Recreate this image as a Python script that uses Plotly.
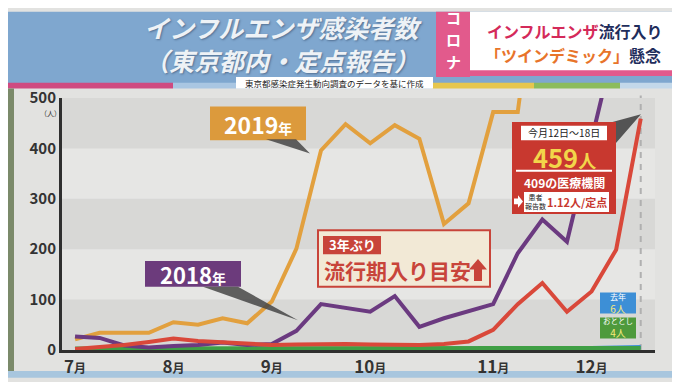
import plotly.graph_objects as go

# ---------------- data ----------------
week_index = list(range(24))
month_tick_index = [0, 4, 8, 12, 17, 21]
month_labels = ["7月", "8月", "9月", "10月", "11月", "12月"]
y_ticks = [0, 100, 200, 300, 400, 500]

flu_2019 = [21, 34, 34, 34, 55, 50, 63, 53, 96, 201, 396, 448, 410, 446, 419, 250, 291, 472, 472, 850]
flu_2018 = [27, 24, 9, 5, 8, 10, 15, 10, 12, 38, 91, 84, 76, 107, 46, 63, 76, 91, 192, 259, 215, 417, 620]
flu_2022 = [2, 6, 10, 16, 23, 18, 15, 12, 10, 11, 12, 12, 11, 10, 10, 12, 17, 40, 91, 133, 76, 116, 199, 459]
flu_2021 = [1, 1, 1, 2, 2, 2, 2, 1, 1, 1, 1, 1, 1, 1, 1, 2, 2, 2, 3, 3, 3, 4, 5, 6]
flu_2020 = [3, 3, 3, 3, 3, 3, 3, 3, 3, 3, 3, 3, 3, 3, 3, 3, 3, 3, 3, 3, 3, 4, 4, 4]

FONT = "Noto Sans CJK JP"
W, H = 680, 382
L, R, T, B = 54, 647, 90, 353


def X(px):
    return (px - L) / (R - L)


def Y(py):
    return (B - py) / (B - T)


def path(pts):
    return "M " + " L ".join(f"{X(a):.5f},{Y(b):.5f}" for a, b in pts) + " Z"


fig = go.Figure()

series = [
    (flu_2021, "#3b8fd8", "2021"),
    (flu_2020, "#3f9f45", "2020"),
    (flu_2019, "#e2a03e", "2019"),
    (flu_2018, "#6b3a80", "2018"),
    (flu_2022, "#d9483a", "2022"),
]
for vals, col, name in series:
    fig.add_trace(go.Scatter(
        x=week_index[:len(vals)], y=vals, mode="lines", name=name,
        line=dict(color=col, width=4), showlegend=False, hoverinfo="skip"))

shapes = []


def rect(x0, y0, x1, y1, fill, line_color=None, lw=0, layer="above"):
    shapes.append(dict(type="rect", xref="paper", yref="paper",
                       x0=X(x0), x1=X(x1), y0=Y(y1), y1=Y(y0),
                       fillcolor=fill, layer=layer,
                       line=dict(color=line_color or fill, width=lw)))


def poly(pts, fill, layer="above"):
    shapes.append(dict(type="path", xref="paper", yref="paper", path=path(pts),
                       fillcolor=fill, layer=layer, line=dict(width=0)))


# grid bands
for lo in (0, 200, 400):
    shapes.append(dict(type="rect", xref="paper", yref="y", x0=0, x1=1, y0=lo, y1=lo + 100,
                       fillcolor="#d8d8d6", line=dict(width=0), layer="below"))

# background decorations
rect(0, 0, 680, 75, "#7fa7cf", layer="below")
rect(0, 74, 165, 80, "#cf4a80", layer="below")
rect(165, 74, 424, 80, "#a9c6e2", layer="below")
rect(424, 74, 526, 80, "#e6c64e", layer="below")
rect(526, 74, 612, 80, "#8cbc5c", layer="below")
rect(612, 74, 680, 80, "#c3d8ea", layer="below")
rect(0, 375, 680, 382, "#a8c6de", layer="below")
rect(0, 80, 6, 375, "#7b8a6a", layer="below")

# subtitle
rect(228, 68, 425, 80, "#ffffff")

# right headline box
rect(462, 4, 680, 67, "#e25a8c")
rect(462, 0, 680, 61, "#ffffff")
rect(428, 0, 462, 68, "#e25a8c")

# dashed current-week line
shapes.append(dict(type="line", xref="x", yref="paper", x0=23, x1=23, y0=0, y1=1.01,
                   line=dict(color="#b0b0b0", width=2, dash="6px,6px"), layer="below"))

# 2019 callout
rect(202, 99, 298, 134, "#dc9a3c")
poly([(258, 133), (288, 133), (302, 148)], "rgba(70,70,70,0.85)")
# 2018 callout
rect(137, 260, 233, 287, "#6c3b7c")
poly([(195, 287), (230, 287), (290, 322)], "rgba(70,70,70,0.85)")
# 3年ぶり box
rect(310, 228, 482, 287, "#f2e9d6", "#c8443a", 2)
rect(315, 234, 373, 253, "#c8443a")
poly([(466, 281), (474, 281), (474, 269), (479, 269), (470, 258), (461, 269), (466, 269)], "#c8443a")
# red box
poly([(598, 117), (608, 117), (608, 137), (633, 107)], "rgba(70,70,70,0.9)")
rect(504, 115, 608, 211, "#c8382f")
rect(513, 119, 599, 134, "#ffffff")
rect(508, 165, 604, 167, "#ffffff")
rect(516, 188, 601, 209, "#ffffff")
poly([(506, 195), (510, 195), (510, 191.5), (515, 198), (510, 204.5), (510, 201), (506, 201)], "#ffffff")
# last-year boxes
rect(592, 293, 628, 315, "#3d8fd6")
rect(592, 319, 628, 341, "#4e9a3c")

annotations = []


def ann(px, py, text, size, color, weight="bold", xanchor="center", style="normal",
        shadow=None, align="center"):
    f = dict(family=FONT, size=size, color=color, weight=weight, style=style)
    if shadow:
        f["shadow"] = shadow
    annotations.append(dict(xref="paper", yref="paper", x=X(px), y=Y(py), text=text,
                            showarrow=False, xanchor=xanchor, yanchor="middle", align=align,
                            font=f))


# titles
ann(134, 33, "インフルエンザ感染者数<br><span style='font-size:25px'>（東京都内・定点報告）</span>",
    25, "#eef2f6", style="italic", shadow="1px 1px 2px rgba(40,60,90,0.5)",
    xanchor="left", align="left")
ann(326, 74.5, "東京都感染症発生動向調査のデータを基に作成", 8.5, "#222222", weight="normal")
ann(445, 29, "<span style='font-size:15px'>コ</span><br><span style='font-size:15px'>ロ</span><br>"
             "<span style='font-size:15px'>ナ</span>", 17, "#ffffff")
ann(567, 20, "<span style='color:#d42a5a'>インフルエンザ</span>流行入り", 16, "#1f2d5c")
ann(565, 45, "<span style='color:#e8742a'>「ツインデミック」</span>懸念", 16, "#1f2d5c")

# axis unit
ann(42, 106, "（人）", 7, "#333333", weight="normal")

# callout texts
ann(250, 117, "2019<span style='font-size:14px'>年</span>", 23, "#ffffff")
ann(185, 274, "2018<span style='font-size:14px'>年</span>", 22, "#ffffff")
ann(344, 243, "3年ぶり", 13, "#ffffff")
ann(389, 269, "流行期入り目安", 21, "#c8443a")
ann(556, 126, "今月12日～18日", 10, "#222222", weight="normal")
ann(556, 151.5, "459<span style='font-size:18px'>人</span>", 25.5, "#f2d64a")
ann(556, 178.5, "409の医療機関", 12, "#ffffff")
ann(527, 198, "患者<br>報告数", 7, "#222222", weight="normal")
ann(569, 198.5, "1.12人/定点", 11, "#c8382f")
ann(610, 304, "<span style='font-size:8px;color:#ffffff'>去年</span><br>6人", 10, "#f5e97a",
    weight="normal")
ann(610, 330, "<span style='font-size:7.5px;color:#ffffff'>おととし</span><br>4人", 10, "#f5e97a",
    weight="normal")

tick_text = [lab.replace("月", "<span style='font-size:12px'>月</span>") for lab in month_labels]

fig.update_layout(
    width=W, height=H, autosize=False,
    margin=dict(l=L, r=W - R, t=T, b=H - B),
    paper_bgcolor="#e2e2e0", plot_bgcolor="#e6e6e4",
    shapes=shapes, annotations=annotations,
    xaxis=dict(range=[-0.53, 23.58], tickmode="array", tickvals=month_tick_index, ticktext=tick_text,
               showgrid=False, zeroline=False, showline=True, linecolor="#2f2f2f", linewidth=3,
               ticks="", tickfont=dict(family=FONT, size=17, color="#333333", weight="bold")),
    yaxis=dict(range=[0, 500], tickmode="array", tickvals=y_ticks, showgrid=False, zeroline=False,
               showline=True, linecolor="#2f2f2f", linewidth=3, ticks="",
               tickfont=dict(family=FONT, size=15, color="#333333", weight="bold")),
)

fig.write_html("out.html")
